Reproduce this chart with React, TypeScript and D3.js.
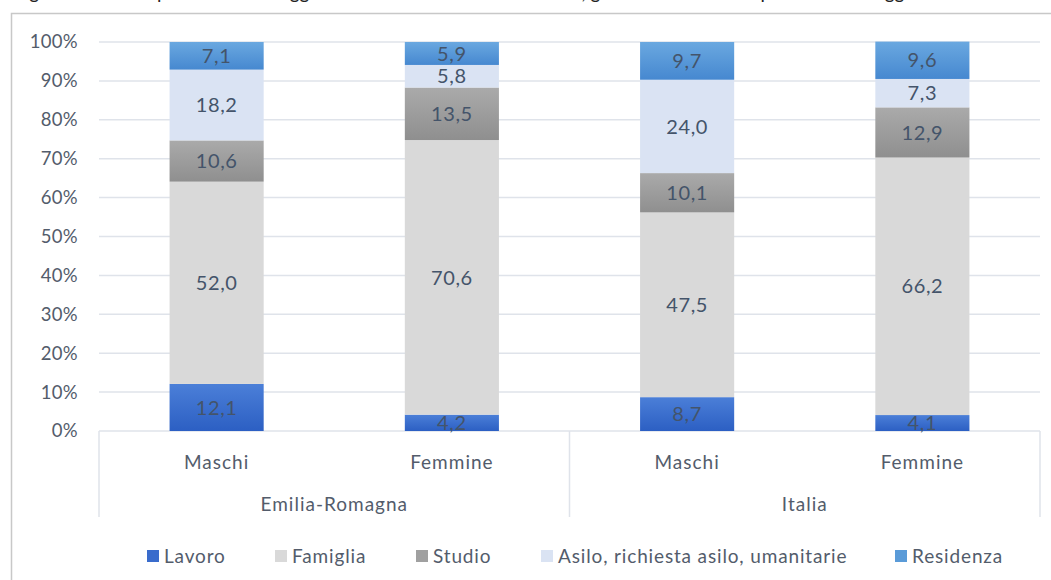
import React from 'react';
import * as d3 from 'd3';

const groups = ['Emilia-Romagna', 'Italia'];
const genders = ['Maschi', 'Femmine'];
const motivi = ['Lavoro', 'Famiglia', 'Studio', 'Asilo, richiesta asilo, umanitarie', 'Residenza'];

// one value per bar: ER Maschi, ER Femmine, Italia Maschi, Italia Femmine
const lavoro = [12.1, 4.2, 8.7, 4.1];
const famiglia = [52.0, 70.6, 47.5, 66.2];
const studio = [10.6, 13.5, 10.1, 12.9];
const asilo = [18.2, 5.8, 24.0, 7.3];
const residenza = [7.1, 5.9, 9.7, 9.6];

const yTicks = [0, 10, 20, 30, 40, 50, 60, 70, 80, 90, 100];

const W = 1051;
const H = 580;
const left = 99;
const right = 1040;
const top = 42;
const bottom = 431;

const fills = ['url(#gLav)', '#d9d9d9', 'url(#gStu)', '#dae3f3', 'url(#gRes)'];
const swatch = ['#3a6ccc', '#d9d9d9', '#a0a0a0', '#dae3f3', '#5a9bd8'];
const legendX = [147, 275, 416, 541, 895];

const font = 'Lato, "Open Sans", sans-serif';
const textCol = '#535c6b';

const App = () => {
  const keys = groups.flatMap((g) => genders.map((s) => `${g}|${s}`));
  const series = [lavoro, famiglia, studio, asilo, residenza];
  const rows = keys.map((k, i) => {
    const r: any = { key: k };
    motivi.forEach((m, j) => (r[m] = series[j][i]));
    return r;
  });
  const stacked = d3.stack<any>().keys(motivi)(rows);

  const x = d3.scaleBand().domain(keys).range([left, right]).paddingInner(0.6).paddingOuter(0.3);
  const y = d3.scaleLinear().domain([0, 100]).range([bottom, top]);
  const groupW = x.step() * genders.length;

  return (
    <svg width={W} height={H} style={{ position: 'absolute', left: 0, top: 0, background: '#fff' }} fontFamily={font}>
      <defs>
        <linearGradient id="gLav" x1="0" y1="0" x2="0" y2="1">
          <stop offset="0" stopColor="#4b7fd8" />
          <stop offset="1" stopColor="#2c5fc3" />
        </linearGradient>
        <linearGradient id="gStu" x1="0" y1="0" x2="0" y2="1">
          <stop offset="0" stopColor="#aaaaaa" />
          <stop offset="1" stopColor="#8f8f8f" />
        </linearGradient>
        <linearGradient id="gRes" x1="0" y1="0" x2="0" y2="1">
          <stop offset="0" stopColor="#6aa8e0" />
          <stop offset="1" stopColor="#4688d0" />
        </linearGradient>
      </defs>

      {/* caption of the page, cut at the top edge as in the source */}
      <text x={14} y={-1.5} fontSize={19} fill="#222">
        Figura 3.2 – Composizione dei soggiornanti non comunitari residenti, genere e motivo del permesso di soggiorno
      </text>

      <rect x={11.5} y={13.5} width={W + 10} height={H} fill="none" stroke="#c8c8c8" strokeWidth={1.5} />

      {yTicks.map((t) => (
        <g key={t}>
          <line x1={left} x2={right} y1={y(t)} y2={y(t)} stroke="#dfe3ea" strokeWidth={1.5} />
          <text x={78} y={y(t)} dy="0.35em" textAnchor="end" fontSize={18.5} letterSpacing={0.3} fill={textCol}>
            {t}%
          </text>
        </g>
      ))}

      {stacked.map((s, j) =>
        s.map((d) => (
          <rect
            key={`${j}-${d.data.key}`}
            x={x(d.data.key)}
            y={y(d[1])}
            width={x.bandwidth()}
            height={y(d[0]) - y(d[1])}
            fill={fills[j]}
          />
        ))
      )}

      {stacked.map((s, j) =>
        s.map((d) => (
          <text
            key={`l${j}-${d.data.key}`}
            x={(x(d.data.key) as number) + x.bandwidth() / 2}
            y={(y(d[0]) + y(d[1])) / 2}
            dy="0.36em"
            textAnchor="middle"
            fontSize={20}
            letterSpacing={0.6}
            fill="#44546a"
          >
            {d3.format('.1f')(d[1] - d[0]).replace('.', ',')}
          </text>
        ))
      )}

      {/* category axis frame */}
      {d3.range(groups.length + 1).map((i) => (
        <line
          key={`v${i}`}
          x1={left + i * groupW}
          x2={left + i * groupW}
          y1={bottom}
          y2={517}
          stroke="#dfe3ea"
          strokeWidth={1.5}
        />
      ))}
      {keys.map((k) => (
        <text
          key={`c${k}`}
          x={(x(k) as number) + x.bandwidth() / 2}
          y={462}
          dy="0.35em"
          textAnchor="middle"
          fontSize={19}
          letterSpacing={1}
          fill={textCol}
        >
          {k.split('|')[1]}
        </text>
      ))}
      {groups.map((g, i) => (
        <text
          key={`g${g}`}
          x={left + i * groupW + groupW / 2}
          y={504}
          dy="0.35em"
          textAnchor="middle"
          fontSize={19}
          letterSpacing={1}
          fill={textCol}
        >
          {g}
        </text>
      ))}

      {motivi.map((m, i) => (
        <g key={`leg${m}`} transform={`translate(${legendX[i]},556)`}>
          <rect x={0} y={-6} width={12} height={12} fill={swatch[i]} />
          <text x={17} y={0} dy="0.35em" fontSize={19} letterSpacing={0.85} fill={textCol}>
            {m}
          </text>
        </g>
      ))}
    </svg>
  );
};

export default App;
